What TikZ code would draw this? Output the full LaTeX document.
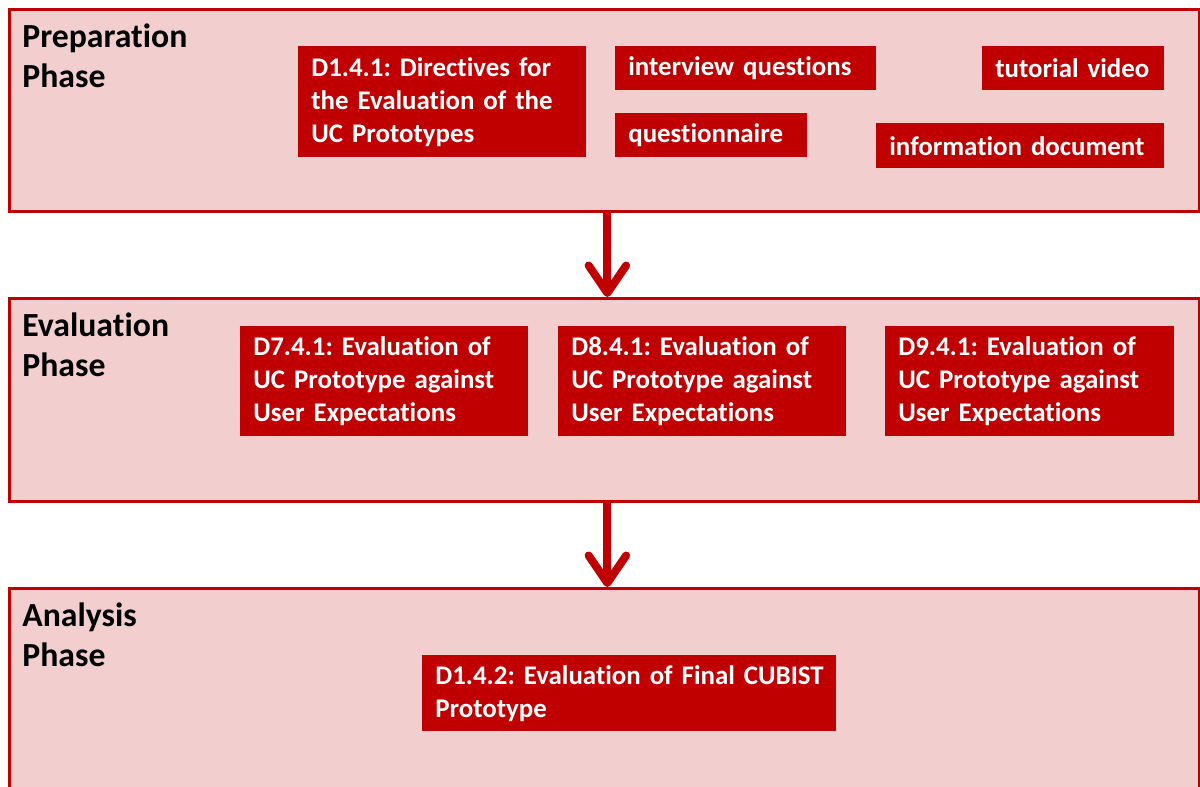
\documentclass[tikz,border=0pt]{standalone}
\usepackage{fontspec}
\setmainfont{Carlito}[Ligatures=NoCommon]
\usepackage{xcolor}
\usepackage{tikz}
\usetikzlibrary{positioning, arrows.meta}
\definecolor{cubred}{RGB}{192,0,0}
\definecolor{cubpink}{RGB}{242,206,206}
\frenchspacing
\tikzset{
    phase/.style={rectangle, draw=cubred, line width=0.06cm, fill=cubpink, anchor=north west, inner sep=0pt, minimum width=23.8cm},
    phaselabel/.style={anchor=north west, align=left, inner sep=0pt, font=\bfseries\fontsize{19.2}{22.8}\selectfont},
    deliv/.style={rectangle, fill=cubred, text=white, anchor=north west, align=left, inner xsep=0.26cm, inner ysep=0pt, font=\bfseries\fontsize{15.3}{18.8}\selectfont},
    arrow/.style={-{Straight Barb[length=0.55cm, width=0.75cm, round]}, line width=0.16cm, draw=cubred}
}
\begin{document}
\begin{tikzpicture}[x=0.02cm, y=-0.02cm]
        \useasboundingbox (0,0) rectangle (1200,787);

        % --- PHASES ---
        \node[phase, minimum height=4.04cm] (prep) at (8,8) {};
        \node[phase, minimum height=4.06cm] (eval) at (8,297) {};
        \node[phase, minimum height=4.8cm] (anal) at (8,587) {};

        \node[phaselabel, below right=0.3cm and 0.28cm of prep.north west] (prepL) {Preparation\\Phase};
        \node[phaselabel, below right=0.3cm and 0.28cm of eval.north west] (evalL) {Evaluation\\Phase};
        \node[phaselabel, below right=0.3cm and 0.28cm of anal.north west] (analL) {Analysis\\Phase};

        % --- PREPARATION ---
        \node[deliv, text width=5.24cm, minimum height=2.22cm] (d141) at (298,46) {D1.4.1: Directives for\\the Evaluation of the\\UC Prototypes};
        \node[deliv, text width=4.70cm, minimum height=0.88cm] (interview) at (615,46) {interview questions};
        \node[deliv, text width=3.12cm, minimum height=0.88cm] (tutorial) at (982,46) {tutorial video};
        \node[deliv, text width=3.32cm, minimum height=0.88cm] (quest) at (615,113) {questionnaire};
        \node[deliv, text width=5.24cm, minimum height=0.90cm] (info) at (876,123) {information document};

        % --- EVALUATION ---
        \node[deliv, text width=5.24cm, minimum height=2.2cm] (d741) at (240,326) {D7.4.1: Evaluation of\\UC Prototype against\\User Expectations};
        \node[deliv, text width=5.24cm, minimum height=2.2cm] (d841) at (558,326) {D8.4.1: Evaluation of\\UC Prototype against\\User Expectations};
        \node[deliv, text width=5.26cm, minimum height=2.2cm] (d941) at (885,326) {D9.4.1: Evaluation of\\UC Prototype against\\User Expectations};

        % --- ANALYSIS ---
        \node[deliv, text width=7.76cm, minimum height=1.52cm] (d142) at (422,655) {\mbox{D1.4.2: Evaluation of Final CUBIST}\\Prototype};

        % Flow between phases
        \draw[arrow] ([xshift=0.06cm]prep.south) -- ([xshift=0.06cm]eval.north);
        \draw[arrow] ([xshift=0.06cm]eval.south) -- ([xshift=0.06cm]anal.north);

    \end{tikzpicture}
\end{document}
